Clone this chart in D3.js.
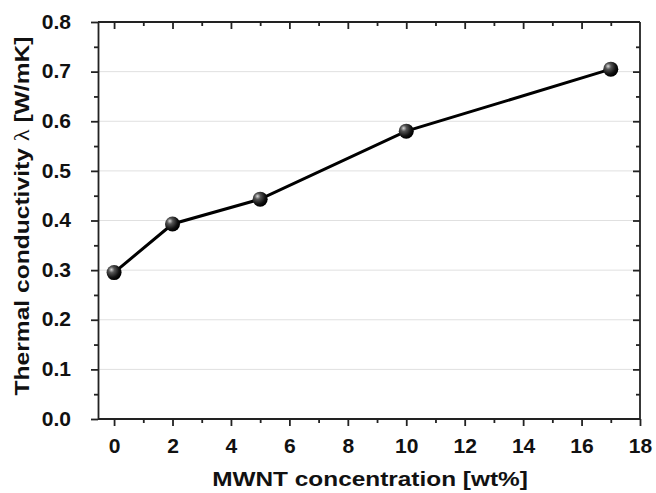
<!DOCTYPE html>
<meta charset="utf-8">
<html>
<head>
  <title>Thermal conductivity</title>
  <style>
    body { margin: 0; background: #fff; }
    text { font-family: "Liberation Sans", Arial, sans-serif; font-weight: bold; }
  </style>
</head>
<body>
  <script src="https://d3js.org/d3.v7.js"></script>
  <div id="chart"></div>
  <script>
    // data
    var concentration = [0, 2, 5, 10, 17];
    var conductivity = [0.295, 0.393, 0.443, 0.580, 0.705];
    var xTicks = [0, 2, 4, 6, 8, 10, 12, 14, 16, 18];
    var yTicks = [0.0, 0.1, 0.2, 0.3, 0.4, 0.5, 0.6, 0.7, 0.8];

    var margin = { top: 22, right: 16, bottom: 74, left: 98 },
      width = 656 - margin.left - margin.right,
      height = 493 - margin.top - margin.bottom;

    var svg = d3.select("#chart")
      .append("svg")
      .attr("width", 656)
      .attr("height", 493);

    var defs = svg.append("defs");
    var grad = defs.append("radialGradient")
      .attr("id", "ball")
      .attr("cx", "35%").attr("cy", "35%").attr("r", "65%")
      .attr("fx", "32%").attr("fy", "30%");
    grad.append("stop").attr("offset", "0%").attr("stop-color", "#d8d8d8");
    grad.append("stop").attr("offset", "30%").attr("stop-color", "#555");
    grad.append("stop").attr("offset", "75%").attr("stop-color", "#111");
    grad.append("stop").attr("offset", "100%").attr("stop-color", "#000");

    var g = svg.append("g")
      .attr("transform", "translate(" + margin.left + "," + margin.top + ")");

    var x = d3.scaleLinear().domain([-0.55, 18]).range([0, width]);
    var y = d3.scaleLinear().domain([0, 0.8]).range([height, 0]);

    // horizontal grid
    g.append("g")
      .selectAll("line")
      .data(yTicks.slice(1, -1))
      .enter()
      .append("line")
      .attr("x1", 0).attr("x2", width)
      .attr("y1", d => y(d)).attr("y2", d => y(d))
      .attr("stroke", "#e0e0e0")
      .attr("stroke-width", 1);

    var xMinor = d3.range(1, 18, 2);
    var yMinor = d3.range(0.05, 0.8, 0.1);

    function styleAxis(sel) {
      sel.select(".domain").attr("stroke", "#222").attr("stroke-width", 1.8);
      sel.selectAll(".tick line").attr("stroke", "#222").attr("stroke-width", 1.8);
      sel.selectAll(".tick text").attr("font-size", 19.5).attr("fill", "#111");
    }
    function styleMinor(s) {
      s.select(".domain").remove();
      s.selectAll("line").attr("stroke", "#222").attr("stroke-width", 1.8);
    }

    // bottom axis
    var xb = g.append("g")
      .attr("transform", "translate(0," + height + ")")
      .call(d3.axisBottom(x).tickValues(xTicks).tickFormat(d3.format("d"))
        .tickSizeInner(7).tickSizeOuter(0).tickPadding(13));
    styleAxis(xb);
    xb.selectAll(".tick text").attr("transform", "scale(1.08,1)");
    xb.call(s => s.select(".domain").attr("d", "M0,0H" + width));
    g.append("g")
      .attr("transform", "translate(0," + height + ")")
      .call(d3.axisBottom(x).tickValues(xMinor).tickFormat("").tickSizeInner(4).tickSizeOuter(0))
      .call(styleMinor);

    // left axis
    var yl = g.append("g")
      .call(d3.axisLeft(y).tickValues(yTicks).tickFormat(d3.format(".1f"))
        .tickSizeInner(7).tickSizeOuter(0).tickPadding(6));
    styleAxis(yl);
    yl.selectAll(".tick text").attr("transform", "translate(-13,0) scale(1.08,1)");
    g.append("g")
      .call(d3.axisLeft(y).tickValues(yMinor).tickFormat("").tickSizeInner(4).tickSizeOuter(0))
      .call(styleMinor);

    // top axis, ticks pointing inward
    var xt = g.append("g")
      .call(d3.axisTop(x).tickValues(xTicks.slice(0, -1)).tickFormat("").tickSizeInner(-7).tickSizeOuter(0));
    styleAxis(xt);
    xt.call(s => s.select(".domain").attr("d", "M0,0H" + width));
    g.append("g")
      .call(d3.axisTop(x).tickValues(xMinor).tickFormat("").tickSizeInner(-4).tickSizeOuter(0))
      .call(styleMinor);

    // right axis, ticks pointing inward
    var yr = g.append("g")
      .attr("transform", "translate(" + width + ",0)")
      .call(d3.axisRight(y).tickValues(yTicks.slice(1, -1)).tickFormat("").tickSizeInner(-7).tickSizeOuter(0));
    styleAxis(yr);
    yr.call(s => s.select(".domain").attr("d", "M0,0V" + height));
    g.append("g")
      .attr("transform", "translate(" + width + ",0)")
      .call(d3.axisRight(y).tickValues(yMinor).tickFormat("").tickSizeInner(-4).tickSizeOuter(0))
      .call(styleMinor);

    var data = concentration.map((c, i) => ({ x: c, y: conductivity[i] }));

    // line
    g.append("path")
      .datum(data)
      .attr("fill", "none")
      .attr("stroke", "#000")
      .attr("stroke-width", 3)
      .attr("d", d3.line().x(d => x(d.x)).y(d => y(d.y)));

    // markers
    g.selectAll("circle")
      .data(data)
      .enter()
      .append("circle")
      .attr("cx", d => x(d.x))
      .attr("cy", d => y(d.y))
      .attr("r", 7.5)
      .attr("fill", "url(#ball)");

    // axis titles
    svg.append("text")
      .attr("transform", "translate(" + (margin.left + width / 2 + 1) + ",486) scale(1.22,1)")
      .attr("text-anchor", "middle")
      .attr("font-size", 20)
      .attr("fill", "#111")
      .text("MWNT concentration [wt%]");

    var yt = svg.append("text")
      .attr("transform", "translate(29,216) rotate(-90) scale(1.23,1)")
      .attr("text-anchor", "middle")
      .attr("font-size", 20)
      .attr("fill", "#111");
    yt.append("tspan").text("Thermal conductivity ");
    yt.append("tspan").attr("font-family", "'Liberation Serif', serif").attr("font-weight", "normal").text("λ");
    yt.append("tspan").text(" [W/mK]");
  </script>
</body>
</html>
